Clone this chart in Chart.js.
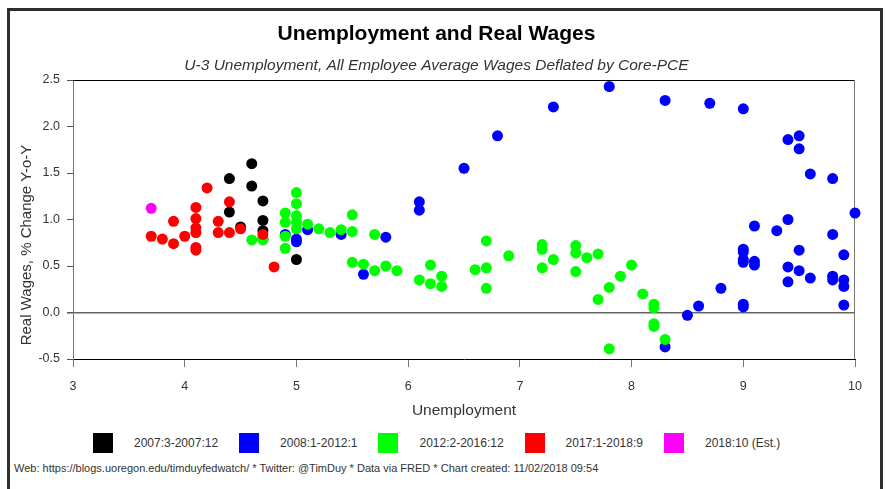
<!DOCTYPE html>
<html>
<head>
<meta charset="utf-8">
<script src="https://cdn.jsdelivr.net/npm/chart.js@4.4.1/dist/chart.umd.min.js"></script>
<style>
  html, body { margin: 0; padding: 0; background: #fff; }
  body { width: 885px; height: 489px; overflow: hidden; position: relative; font-family: 'Liberation Sans', Arial, sans-serif; }
  #frame { position: absolute; left: 7px; top: 8px; width: 870px; height: 500px; border: 3px solid #2e2e2e; box-sizing: content-box; }
  #wrap { position: absolute; left: 0; top: 0; width: 885px; height: 425px; }
  #legend { position: absolute; left: 93px; top: 433px; display: flex; align-items: center; font-size: 12px; color: #333; }
  #legend .item { display: flex; align-items: center; margin-right: 21px; }
  #legend .box { width: 20px; height: 20px; margin-right: 21px; }
  #footer { position: absolute; left: 14px; top: 462px; font-size: 11px; color: #333; white-space: nowrap; }
</style>
</head>
<body>
<div id="frame"></div>
<div id="wrap"><canvas id="chart"></canvas></div>
<div id="legend"></div>
<div id="footer">Web: https://blogs.uoregon.edu/timduyfedwatch/ * Twitter: @TimDuy * Data via FRED * Chart created: 11/02/2018 09:54</div>
<script>
// unemployment rate (x) and real wage growth (y)
const blackU = [4.4, 4.4, 4.5, 4.6, 4.6, 4.7, 4.7, 4.7, 4.7, 5.0];
const blackW = [1.44, 1.08, 0.92, 1.60, 1.36, 1.20, 0.99, 0.88, 0.79, 0.57];

const blueU = [4.9, 5.0, 5.0, 5.1, 5.4, 5.6, 5.8, 6.1, 6.1, 6.5, 6.8, 7.3, 7.8, 8.3, 8.7,
  9.0, 9.4, 9.5, 9.5, 9.6, 9.8, 10.0, 9.1, 9.3, 9.4, 9.8, 9.0, 9.0, 9.0, 9.0,
  9.1, 9.1, 9.5, 9.9, 9.4, 9.5, 9.6, 9.8, 9.8, 9.9, 9.9, 9.4, 8.8, 8.6, 8.5, 9.0, 9.0, 9.9, 8.3];
const blueW = [0.84, 0.79, 0.76, 0.89, 0.84, 0.41, 0.81, 1.19, 1.10, 1.55, 1.90, 2.21, 2.43, 2.28, 2.25,
  2.19, 1.86, 1.90, 1.76, 1.49, 1.44, 1.07, 0.93, 0.88, 1.00, 0.84, 0.68, 0.65, 0.57, 0.54,
  0.55, 0.51, 0.67, 0.62, 0.49, 0.45, 0.37, 0.39, 0.35, 0.35, 0.28, 0.33, 0.26, 0.07, -0.03, 0.09, 0.06, 0.08, -0.37];

const greenU = [4.6, 4.7, 4.9, 4.9, 4.9, 4.9, 5.0, 5.0, 5.0, 5.0, 5.0, 5.1, 5.2, 5.3, 5.4,
  5.5, 5.5, 5.5, 5.6, 5.7, 5.7, 5.8, 5.9, 6.1, 6.2, 6.2, 6.3, 6.3, 6.6, 6.7,
  6.7, 6.7, 6.9, 7.2, 7.2, 7.2, 7.3, 7.5, 7.5, 7.5, 7.6, 7.7, 7.7, 7.8, 7.8,
  7.9, 8.0, 8.1, 8.2, 8.2, 8.2, 8.2, 8.3];
const greenW = [0.78, 0.78, 1.07, 0.97, 0.82, 0.69, 1.29, 1.17, 1.04, 0.97, 0.90, 0.95, 0.90, 0.86, 0.89,
  1.05, 0.87, 0.54, 0.52, 0.84, 0.45, 0.50, 0.45, 0.35, 0.51, 0.31, 0.39, 0.28, 0.46, 0.77,
  0.48, 0.26, 0.61, 0.73, 0.68, 0.48, 0.57, 0.72, 0.64, 0.44, 0.59, 0.63, 0.14, 0.27, -0.39,
  0.39, 0.51, 0.20, 0.09, 0.05, -0.12, -0.15, -0.29];

const redU = [3.7, 3.8, 3.9, 3.9, 4.0, 4.1, 4.1, 4.1, 4.1, 4.1, 4.1, 4.2, 4.3, 4.3, 4.4, 4.4, 4.5, 4.7, 4.8];
const redW = [0.82, 0.79, 0.98, 0.74, 0.82, 1.13, 1.01, 0.91, 0.86, 0.70, 0.67, 1.34, 0.98, 0.86, 1.19, 0.86, 0.90, 0.84, 0.49];

const estU = [3.7];
const estW = [1.12];

const periods = ['2007:3-2007:12', '2008:1-2012:1', '2012:2-2016:12', '2017:1-2018:9', '2018:10 (Est.)'];
const xTicks = [3, 4, 5, 6, 7, 8, 9, 10];
const yTicks = [-0.5, 0.0, 0.5, 1.0, 1.5, 2.0, 2.5];

const colors = ['#000000', '#0000ff', '#00ff00', '#ff0000', '#ff00ff'];
const seriesU = [blackU, blueU, greenU, redU, estU];
const seriesW = [blackW, blueW, greenW, redW, estW];

const FONT = "'Liberation Sans', Arial, sans-serif";
Chart.defaults.font.family = FONT;
Chart.defaults.color = '#333';

const datasets = periods.map((label, i) => ({
  label: label,
  data: seriesU[i].map((u, j) => ({ x: u, y: seriesW[i][j] })),
  backgroundColor: colors[i],
  borderColor: colors[i],
  pointRadius: 5.5,
  pointBorderWidth: 0,
  showLine: false,
  clip: false,
  order: periods.length - i   // later periods drawn on top
}));

// top/right frame of the plot box
const plotFrame = {
  id: 'plotFrame',
  beforeDatasetsDraw(chart) {
    const { ctx, chartArea: a } = chart;
    ctx.save();
    ctx.lineWidth = 1;
    ctx.strokeStyle = '#000';
    ctx.beginPath();
    ctx.moveTo(a.left, a.top + 0.5);
    ctx.lineTo(a.right, a.top + 0.5);
    ctx.stroke();
    ctx.strokeStyle = '#777';
    ctx.beginPath();
    ctx.moveTo(a.right - 0.5, a.top);
    ctx.lineTo(a.right - 0.5, a.bottom);
    ctx.stroke();
    ctx.restore();
  }
};

// y axis title, set a little below the middle as in the original
const yTitle = {
  id: 'yTitle',
  afterDraw(chart) {
    const ctx = chart.ctx;
    ctx.save();
    ctx.translate(27, 245);
    ctx.rotate(-Math.PI / 2);
    ctx.font = '15px ' + FONT;
    ctx.fillStyle = '#333';
    ctx.textAlign = 'center';
    ctx.textBaseline = 'middle';
    ctx.fillText('Real Wages, % Change Y-o-Y', 0, 0);
    ctx.restore();
  }
};

const chart = new Chart(document.getElementById('chart'), {
  type: 'scatter',
  data: { datasets: datasets },
  options: {
    responsive: true,
    maintainAspectRatio: false,
    animation: false,
    events: [],
    layout: { padding: { top: 8, left: 18, right: 30, bottom: 0 } },
    plugins: {
      legend: { display: false },
      tooltip: { enabled: false },
      title: {
        display: true,
        text: 'Unemployment and Real Wages',
        color: '#000',
        font: { size: 21, weight: 'bold' },
        padding: { top: 13.4, bottom: 0 }
      },
      subtitle: {
        display: true,
        text: 'U-3 Unemployment, All Employee Average Wages Deflated by Core-PCE',
        color: '#333',
        font: { size: 15.5, style: 'italic' },
        padding: { top: 9.4, bottom: 5.4 }
      }
    },
    scales: {
      x: {
        type: 'linear',
        min: 3,
        max: 10,
        afterBuildTicks: s => { s.ticks = xTicks.map(v => ({ value: v })); },
        afterFit: s => { s.height = 66; },
        ticks: { font: { size: 12.5 }, color: '#333', padding: 12 },
        grid: { drawOnChartArea: false, tickLength: 8, tickColor: '#777' },
        border: { display: true, color: '#000', width: 1 },
        title: {
          display: true,
          text: 'Unemployment',
          color: '#333',
          font: { size: 15.5 },
          padding: { top: 0, bottom: 5 }
        }
      },
      y: {
        type: 'linear',
        min: -0.5,
        max: 2.5,
        afterBuildTicks: s => { s.ticks = yTicks.map(v => ({ value: v })); },
        afterFit: s => { s.width = 55; },
        ticks: {
          font: { size: 12.5 },
          color: '#333',
          padding: 7,
          callback: v => v.toFixed(1)
        },
        grid: {
          drawOnChartArea: true,
          tickLength: 6,
          tickColor: '#555',
          color: c => (c.tick && c.tick.value === 0 ? '#666' : 'rgba(0,0,0,0)'),
          lineWidth: c => (c.tick && c.tick.value === 0 ? 1.5 : 1)
        },
        border: { display: true, color: '#777', width: 1 }
      }
    }
  },
  plugins: [plotFrame, yTitle]
});

// legend built from the datasets
const legend = document.getElementById('legend');
chart.data.datasets.forEach(ds => {
  const item = document.createElement('div');
  item.className = 'item';
  const box = document.createElement('div');
  box.className = 'box';
  box.style.background = ds.backgroundColor;
  const txt = document.createElement('span');
  txt.textContent = ds.label;
  item.appendChild(box);
  item.appendChild(txt);
  legend.appendChild(item);
});
</script>
</body>
</html>
